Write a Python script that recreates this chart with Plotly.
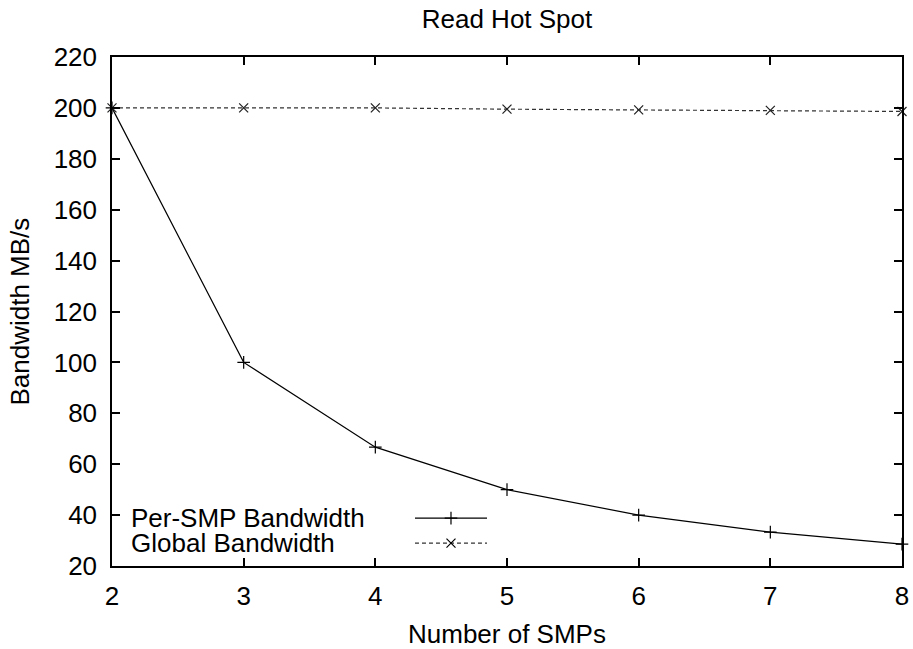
import plotly.graph_objects as go

smps = [2, 3, 4, 5, 6, 7, 8]
per_smp_bw = [200, 100, 66.7, 50, 40, 33.3, 28.6]
global_bw = [200, 200, 200, 199.5, 199.2, 199, 198.6]
series_names = ["Per-SMP Bandwidth", "Global Bandwidth"]
x_ticks = [2, 3, 4, 5, 6, 7, 8]
y_ticks = list(range(20, 221, 20))

FONT = "Liberation Sans, Arial, Helvetica, sans-serif"
FS = 26

fig = go.Figure()
fig.add_trace(go.Scatter(
    x=smps, y=per_smp_bw, mode="lines+markers", name=series_names[0],
    line=dict(color="black", width=1.2),
    marker=dict(symbol="cross-thin", size=9, line=dict(color="black", width=1.2)),
    showlegend=False, cliponaxis=False))
fig.add_trace(go.Scatter(
    x=smps, y=global_bw, mode="lines+markers", name=series_names[1],
    line=dict(color="#333333", width=1.2, dash="4px,3px"),
    marker=dict(symbol="x-thin", size=9, line=dict(color="#222222", width=1.2)),
    showlegend=False, cliponaxis=False))

# legend keys (drawn on an overlay axis in 0..1 units, sample to the right of the label)
key_x = [0.3835, 0.4747]
key_y = [0.094, 0.045]
key_styles = [
    dict(line=dict(color="black", width=1.2), marker_symbol="cross-thin"),
    dict(line=dict(color="#333333", width=1.2, dash="4px,3px"), marker_symbol="x-thin"),
]
for i, name in enumerate(series_names):
    st = key_styles[i]
    fig.add_trace(go.Scatter(
        x=key_x, y=[key_y[i]] * 2, mode="lines", line=st["line"],
        xaxis="x2", yaxis="y2", showlegend=False, hoverinfo="skip"))
    fig.add_trace(go.Scatter(
        x=[(key_x[0] + key_x[1]) / 2], y=[key_y[i]], mode="markers",
        marker=dict(symbol=st["marker_symbol"], size=9, line=dict(color="black", width=1.2)),
        xaxis="x2", yaxis="y2", showlegend=False, hoverinfo="skip"))
    fig.add_annotation(x=0.0228, y=key_y[i], xref="paper", yref="paper",
                       text=name, showarrow=False, xanchor="left", yanchor="middle",
                       borderpad=0,
                       font=dict(family=FONT, size=FS, color="black"))

# y-axis title placed like gnuplot's ylabel, near the left edge
fig.add_annotation(x=-0.1177, y=0.5, xref="paper", yref="paper",
                   text="Bandwidth MB/s", textangle=-90, showarrow=False,
                   xanchor="center", yanchor="middle",
                   font=dict(family=FONT, size=FS, color="black"))

axis_common = dict(showline=True, linecolor="black", linewidth=1.5, mirror="ticks",
                   ticks="inside", ticklen=8, tickwidth=1.5, tickcolor="black",
                   showgrid=False, zeroline=False, automargin=False,
                   tickfont=dict(family=FONT, size=FS, color="black"))

fig.update_layout(
    width=913, height=649,
    margin=dict(l=112, r=11, t=57, b=83, autoexpand=False),
    paper_bgcolor="white", plot_bgcolor="white",
    font=dict(family=FONT, size=FS, color="black"),
    title=dict(text="Read Hot Spot", x=0.5, xref="paper", xanchor="center",
               y=1 - 19 / 649, yanchor="middle",
               font=dict(family=FONT, size=FS, color="black")),
    xaxis=dict(range=[2, 8], tickvals=x_ticks, ticklabelstandoff=6,
               title=dict(text="Number of SMPs", standoff=16,
                          font=dict(family=FONT, size=FS)),
               **axis_common),
    yaxis=dict(range=[20, 220], tickvals=y_ticks, ticklabelstandoff=8,
               **axis_common),
    xaxis2=dict(overlaying="x", range=[0, 1], visible=False, fixedrange=True),
    yaxis2=dict(overlaying="y", range=[0, 1], visible=False, fixedrange=True),
)

fig.write_html("out.html", config={"displayModeBar": False},
               post_script="document.body.style.margin='0';document.body.style.overflow='hidden';")
